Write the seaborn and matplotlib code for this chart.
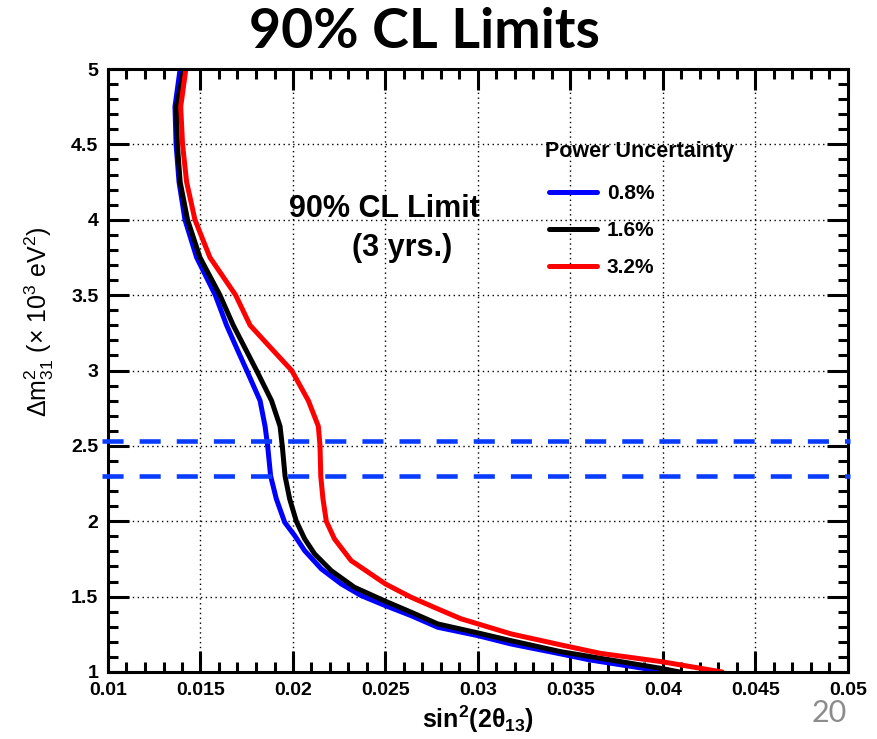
import numpy as np
import pandas as pd
import matplotlib
matplotlib.use("Agg")
import matplotlib.pyplot as plt
import seaborn as sns
from matplotlib.ticker import FixedLocator, MultipleLocator, FixedFormatter

# ---------------- data ----------------
dm2_08 = [5.0, 4.75, 4.5, 4.25, 4.0, 3.75, 3.5, 3.3, 3.15, 3.0, 2.8, 2.63, 2.5, 2.3,
          2.148, 1.993, 1.905, 1.805, 1.684, 1.584, 1.507, 1.44, 1.374, 1.297, 1.241,
          1.186, 1.12, 1.08, 1.0]
sin_08 = [0.0139, 0.01362, 0.01368, 0.01384, 0.01416, 0.01479, 0.0158, 0.01641, 0.01695,
          0.0175, 0.01822, 0.01849, 0.01863, 0.01879, 0.0191, 0.01955, 0.02009, 0.02063,
          0.02153, 0.02261, 0.02368, 0.025, 0.02638, 0.02782, 0.03, 0.03178, 0.03447,
          0.03605, 0.0402]
dm2_16 = [5.0, 4.75, 4.5, 4.25, 4.0, 3.75, 3.5, 3.3, 3.15, 3.0, 2.8, 2.63, 2.5, 2.3,
          2.148, 2.0, 1.883, 1.783, 1.672, 1.562, 1.469, 1.397, 1.319, 1.259, 1.208,
          1.135, 1.024, 1.0]
sin_16 = [0.0141, 0.0137, 0.01375, 0.0139, 0.0143, 0.01497, 0.01605, 0.01677, 0.0174,
          0.01803, 0.01884, 0.0193, 0.01942, 0.01957, 0.01982, 0.02018, 0.02063, 0.02117,
          0.02207, 0.02332, 0.025, 0.02638, 0.02782, 0.03, 0.03178, 0.03447, 0.0399,
          0.0409]
dm2_32 = [5.0, 4.75, 4.5, 4.25, 4.0, 3.75, 3.5, 3.3, 3.15, 3.0, 2.8, 2.63, 2.5, 2.3,
          2.148, 2.0, 1.883, 1.739, 1.584, 1.496, 1.419, 1.353, 1.319, 1.253, 1.18,
          1.124, 1.069, 1.0]
sin_32 = [0.01421, 0.01393, 0.01403, 0.01425, 0.0147, 0.01551, 0.0169, 0.01768, 0.0188,
          0.01993, 0.02083, 0.02137, 0.02146, 0.0215, 0.02162, 0.0218, 0.02224, 0.02314,
          0.025, 0.02638, 0.02782, 0.02908, 0.03, 0.03178, 0.03447, 0.0366, 0.0399,
          0.0432]
series_labels = ["0.8%", "1.6%", "3.2%"]
series_colors = ["#0000ff", "#000000", "#ff0000"]
band_lines = [2.53, 2.30]
x_ticks = [0.01, 0.015, 0.02, 0.025, 0.03, 0.035, 0.04, 0.045, 0.05]
x_tick_labels = ["0.01", "0.015", "0.02", "0.025", "0.03", "0.035", "0.04", "0.045", "0.05"]
y_ticks = [1, 1.5, 2, 2.5, 3, 3.5, 4, 4.5, 5]
y_tick_labels = ["1", "1.5", "2", "2.5", "3", "3.5", "4", "4.5", "5"]

df = pd.concat([
    pd.DataFrame({"dm2": d, "s": s, "unc": lab})
    for d, s, lab in zip([dm2_08, dm2_16, dm2_32], [sin_08, sin_16, sin_32], series_labels)
], ignore_index=True)

# ---------------- style ----------------
sns.set_theme(style="white")
plt.rcParams["font.family"] = ["Liberation Sans", "DejaVu Sans"]
plt.rcParams["text.color"] = "black"
plt.rcParams["axes.labelcolor"] = "black"
plt.rcParams["xtick.color"] = "black"
plt.rcParams["ytick.color"] = "black"
plt.rcParams["mathtext.fontset"] = "custom"
plt.rcParams["mathtext.rm"] = "Liberation Sans"
plt.rcParams["mathtext.it"] = "Liberation Sans:italic"
plt.rcParams["mathtext.bf"] = "Liberation Sans:bold"
plt.rcParams["mathtext.default"] = "regular"

W, H = 878, 739
fig = plt.figure(figsize=(W / 100, H / 100), dpi=100)
L, R, T, B = 108, 848, 69, 672
ax = fig.add_axes([L / W, 1 - B / H, (R - L) / W, (B - T) / H])

sns.lineplot(data=df, x="s", y="dm2", hue="unc", hue_order=series_labels,
             palette=series_colors, sort=False, estimator=None, lw=3.6,
             legend=False, ax=ax)

for yv in band_lines:
    ax.axhline(yv, xmin=-0.008, xmax=1.003, color="#0a3cff", lw=3.3,
               linestyle=(0, (4.6, 3.5)), clip_on=False, zorder=5)

ax.set_xlim(0.01, 0.05)
ax.set_ylim(1, 5)
ax.xaxis.set_major_locator(FixedLocator(x_ticks))
ax.xaxis.set_major_formatter(FixedFormatter(x_tick_labels))
ax.yaxis.set_major_locator(FixedLocator(y_ticks))
ax.yaxis.set_major_formatter(FixedFormatter(y_tick_labels))
ax.xaxis.set_minor_locator(MultipleLocator(0.001))
ax.yaxis.set_minor_locator(MultipleLocator(0.1))
ax.tick_params(which="both", direction="in", top=True, right=True,
               bottom=True, left=True, width=2.2, color="black")
ax.tick_params(which="major", length=15, pad=7, labelsize=14, labelcolor="black")
ax.tick_params(which="minor", length=7)
for lab in ax.get_xticklabels() + ax.get_yticklabels():
    lab.set_fontweight("bold")
for sp in ax.spines.values():
    sp.set_visible(True)
    sp.set_linewidth(2.2)
    sp.set_color("black")
ax.grid(True, which="major", color="black", linestyle=(0, (1, 2.5)), lw=1.0)
ax.set_axisbelow(True)

ax.set_xlabel(r"sin$^\mathbf{2}$(2θ$_\mathbf{13}$)", fontsize=18, fontweight="bold")
ax.xaxis.set_label_coords(0.5, -0.052)
ax.set_ylabel(r"$\Delta$m$^2_{31}$ (× 10$^3$ eV$^2$)", fontsize=18)
ax.yaxis.set_label_coords(-0.07, 0.58)

# legend
fig.text(545 / W, 1 - 157 / H, "Power Uncertainty", ha="left", va="baseline",
         fontsize=15.5, fontweight="bold")
handles = ax.get_lines()[:3]
leg = ax.legend(handles, series_labels,
                loc="upper left", bbox_to_anchor=(539 / W, 1 - 174 / H),
                bbox_transform=fig.transFigure, frameon=False, borderpad=0,
                prop={"weight": "bold", "size": 15}, handlelength=2.3,
                handletextpad=0.45, labelspacing=0.85)

# annotations
fig.text(384 / W, 1 - 217 / H, "90% CL Limit", ha="center", va="baseline",
         fontsize=22, fontweight="bold")
fig.text(402 / W, 1 - 256 / H, "(3 yrs.)", ha="center", va="baseline",
         fontsize=22, fontweight="bold")

fig.text(424 / W, 1 - 48 / H, "90% CL Limits", ha="center", va="baseline",
         fontsize=40, fontweight="bold", family=["Lato", "DejaVu Sans"])
fig.text(829 / W, 1 - 722 / H, "20", ha="center", va="baseline",
         fontsize=22, color="#8c8c8c", family=["Lato", "DejaVu Sans"])

fig.savefig("out.png", dpi=100)
